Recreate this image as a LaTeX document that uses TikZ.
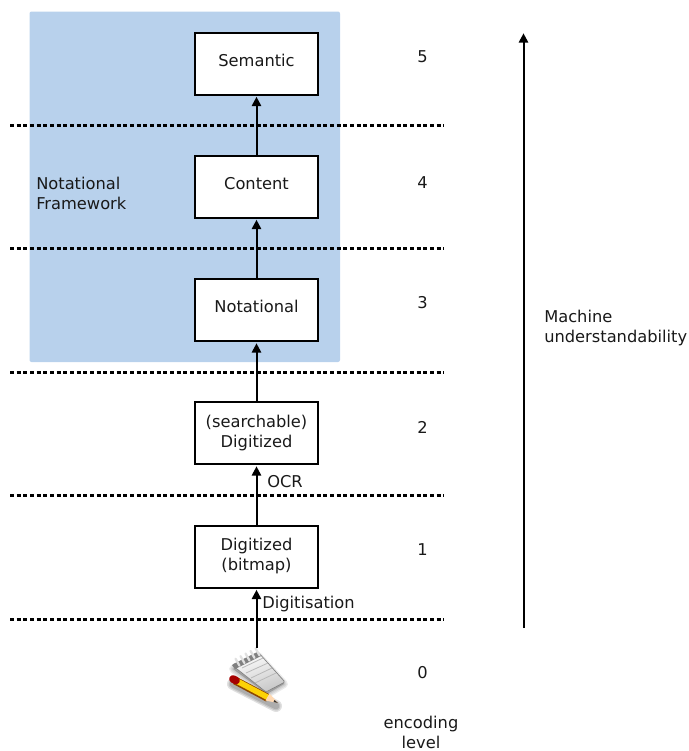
\documentclass[tikz,border=0pt]{standalone}
\usepackage{fontspec}
\setmainfont{DejaVu Sans}
\usetikzlibrary{arrows.meta}
\definecolor{panel}{HTML}{B8D1EC}
\newcommand{\fs}{\fontsize{12.2}{15}\selectfont}
\newcommand{\up}{\rule[-5.2pt]{0pt}{5.2pt}}
\tikzset{
  box/.style={draw=black,fill=white,line width=1.5pt,minimum width=92.5pt,minimum height=46.5pt,inner sep=0pt,align=center,font=\fs,text=black!90},
  lbl/.style={inner sep=0pt,align=left,font=\fs,text=black!90},
  lvl/.style={inner sep=0pt,font=\fs,text=black!90},
  sep/.style={line width=2.25pt,dash pattern=on 3pt off 2pt},
  flow/.style={line width=1.5pt,shorten >=1pt,-{Triangle[length=7pt,width=7pt]}},
}
\begin{document}
\begin{tikzpicture}[x=0.75pt,y=-0.75pt]
\useasboundingbox (0,0) rectangle (689,751);
\fill[panel,rounded corners=1.5pt] (29.5,11.5) rectangle (340,362);
% separators
\foreach \n/\y in {a/125.5,b/248.5,c/372,d/495.5,e/619}{
  \coordinate (s\n l) at (10,\y); \coordinate (s\n r) at (444,\y);
  \draw[sep] (s\n l) -- (s\n r);
}
% boxes
\node[box] (sem) at (256.5,63.5) {Semantic\up};
\node[box] (con) at (256.5,186.5) {Content\up};
\node[box] (not) at (256.5,310) {Notational\up};
\node[box] (sea) at (256.5,433) {(searchable)\\Digitized};
\node[box] (dig) at (256.5,556.5) {Digitized\\(bitmap)\rule[-1.5pt]{0pt}{1.5pt}};
% icon
\begin{scope}
  \foreach \w in {6,4,2}{
    \draw[black,opacity=.08,fill=black,line width=\w pt,line join=round] (233,669) -- (258,656) -- (284,684) -- (267,694) -- cycle;
    \draw[black,opacity=.12,line width={\w pt+3pt},line cap=round] (233,684) -- (276,706);
  }
  \shade[top color=white,bottom color=black!22,shading angle=20,rounded corners=1pt] (232,665) -- (258,652) -- (285,682) -- (266,692) -- cycle;
  \draw[black!50,line width=.5pt,rounded corners=1pt] (232,665) -- (258,652) -- (285,682) -- (266,692) -- cycle;
  \draw[black!28,line width=.6pt] (242,668) -- (263,658) (246,673) -- (268,663) (251,678) -- (272,668) (255,683) -- (276,673);
  \fill[black!50] (232,665) -- (258,652) -- (261,656) -- (235,669) -- cycle;
  \foreach \t in {0.1,0.3,0.5,0.7,0.9}{
    \draw[black!12,line width=1.7pt,line cap=round] ({233+\t*25},{660-\t*13}) -- ({237+\t*25},{667-\t*13});
  }
  \draw[line width=6pt,color=black!45!orange] (235,680.5) -- (268,698);
  \draw[line width=4.2pt,color=yellow!70!orange] (235,680) -- (268,697.5);
  \draw[line width=5.8pt,color=red!65!black,line cap=round] (233,679) -- (236,680.5);
  \fill[orange!30!white] (269.5,693.5) -- (265.5,700.5) -- (278,703) -- cycle;
  \fill[black!80] (274.5,700) -- (273.5,702) -- (278,703) -- cycle;
\end{scope}
\coordinate (src) at (256.5,648);
% connectors
\draw[flow] (src) -- (dig.south);
\draw[flow] (dig.north) -- (sea.south);
\draw[flow] (sea.north) -- (not.south);
\draw[flow] (not.north) -- (con.south);
\draw[flow] (con.north) -- (sem.south);
\coordinate (mb) at (523.5,628); \coordinate (mt) at (523.5,32);
\draw[flow] (mb) -- (mt);
% labels
\node[lbl,anchor=north west] (nf) at (36,176.5) {Notational\\Framework};
\node[lbl,anchor=west] (ocr) at (267,481.5) {OCR};
\node[lbl,anchor=west] (dg) at (262,604.5) {Digitisation};
\node[lbl,anchor=north west] (mu) at (544,310) {Machine\\understandability};
\node[lbl,align=center,anchor=north] (el) at (421,715.5) {encoding\\level};
\foreach \n/\y in {5/57,4/183,3/303,2/427,1/550,0/673}{
  \node[lvl] (l\n) at (422.5,\y) {\n};
}
\end{tikzpicture}
\end{document}
